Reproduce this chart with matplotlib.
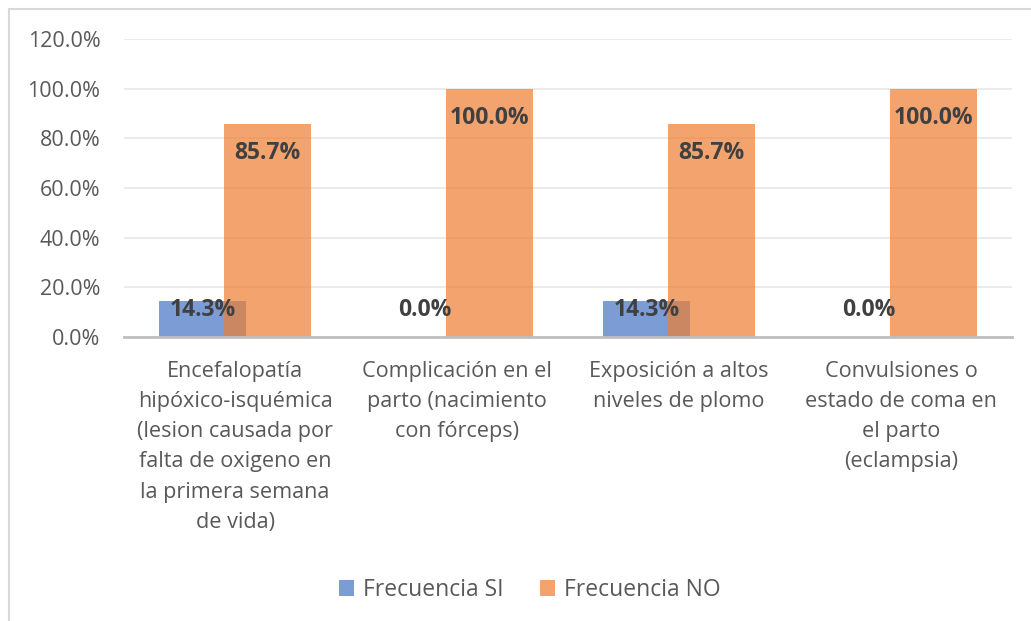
import numpy as np
import matplotlib.pyplot as plt
from matplotlib.patches import Rectangle

categorias = ["Encefalopatía\nhipóxico-isquémica\n(lesion causada por\nfalta de oxigeno en\nla primera semana\nde vida)",
              "Complicación en el\nparto (nacimiento\ncon fórceps)",
              "Exposición a altos\nniveles de plomo",
              "Convulsiones o\nestado de coma en\nel parto\n(eclampsia)"]
frec_si = [0.143, 0.0, 0.143, 0.0]
frec_no = [0.857, 1.0, 0.857, 1.0]
etiquetas_y = ["0.0%", "20.0%", "40.0%", "60.0%", "80.0%", "100.0%", "120.0%"]

plt.rcParams['font.family'] = ['Open Sans', 'DejaVu Sans']

fig = plt.figure(figsize=(10.31, 6.21), dpi=100)
ax = fig.add_axes([124 / 1031, 1 - 337 / 621, 888 / 1031, (337 - 39) / 621])

# borde del cuadro del grafico
fig.patches.append(Rectangle((9 / 1031, -0.1), 1.2, 1 - 9 / 621 + 0.1,
                             transform=fig.transFigure, fill=False,
                             edgecolor='#D9D9D9', lw=1.5))

x = np.arange(len(categorias))
ancho = 0.392
desp = 0.146

b1 = ax.bar(x - desp, frec_si, ancho, color='#4472C4', alpha=0.7, label='Frecuencia SI', zorder=2)
b2 = ax.bar(x + desp, frec_no, ancho, color='#ED7D31', alpha=0.7, label='Frecuencia NO', zorder=3)

for xs, vals in [(x - desp, frec_si), (x + desp, frec_no)]:
    for xi, v in zip(xs, vals):
        ax.text(xi, max(v - 0.118, 0.109), f"{v * 100:.1f}%", ha='center', va='center',
                fontsize=16.5, fontweight='bold', color='#404040', zorder=5)

ax.set_ylim(0, 1.2)
ax.set_xlim(-0.5, len(categorias) - 0.5)
ax.set_yticks(np.arange(0, 1.21, 0.2))
ax.set_yticklabels(etiquetas_y, fontsize=15.5, color='#595959')
ax.set_xticks(x)
ax.set_xticklabels(categorias, fontsize=15.6, color='#595959', linespacing=1.58)
ax.tick_params(axis='both', length=0)
ax.tick_params(axis='y', pad=17)
ax.tick_params(axis='x', pad=17)
ax.grid(axis='y', color='#E8E8E8', lw=1.2, zorder=0)
ax.set_axisbelow(True)
for s in ['top', 'right', 'left']:
    ax.spines[s].set_visible(False)
ax.spines['bottom'].set_color('#BFBFBF')
ax.spines['bottom'].set_linewidth(2)
ax.spines['bottom'].set_zorder(4)

fig.legend(loc='center', bbox_to_anchor=(530 / 1031, 1 - 590 / 621), ncol=2, frameon=False,
           fontsize=16.5, labelcolor='#595959', handlelength=0.65, handleheight=0.65,
           handletextpad=0.4, columnspacing=1.6)

fig.savefig("out.png", dpi=100)
